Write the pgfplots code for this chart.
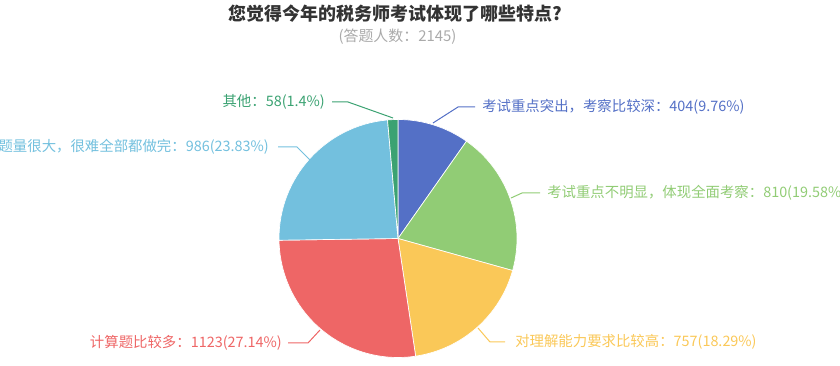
\documentclass[border=0pt]{standalone}
\usepackage{fontspec}
\usepackage{pgfplots}
\usepackage{pgfplotstable}
\pgfplotsset{compat=1.18}
\newfontfamily\cjk{Noto Sans CJK SC}
\definecolor{cA}{HTML}{5470C6}
\definecolor{cB}{HTML}{91CC75}
\definecolor{cC}{HTML}{FAC858}
\definecolor{cD}{HTML}{EE6666}
\definecolor{cE}{HTML}{73C0DE}
\definecolor{cF}{HTML}{3BA272}
\definecolor{titlec}{HTML}{333333}
\definecolor{subc}{HTML}{AAAAAA}

% values of the six answers (clockwise from 12 o'clock)
\pgfplotstableread{
idx value
0 404
1 810
2 757
3 1123
4 986
5 58
}\piedata

% total
\def\tot{0}
\pgfplotsforeachungrouped \i in {0,...,5}{%
  \pgfplotstablegetelem{\i}{value}\of\piedata
  \pgfmathsetmacro\tot{\tot+\pgfplotsretval}%
}
% start/end angles of each slice
\def\cum{0}
\pgfplotsforeachungrouped \i in {0,...,5}{%
  \pgfplotstablegetelem{\i}{value}\of\piedata
  \pgfmathsetmacro\s{90-360*(\cum/\tot)}%
  \pgfmathsetmacro\cum{\cum+\pgfplotsretval}%
  \pgfmathsetmacro\e{90-360*(\cum/\tot)}%
  \expandafter\xdef\csname sa\i\endcsname{\s}%
  \expandafter\xdef\csname ea\i\endcsname{\e}%
}
\newcommand\slice[2]{%
  \fill[#2, draw=white, line width=0.5pt] (axis cs:398,238.5) -- ++(\csname sa#1\endcsname:89.25pt)
    arc[start angle=\csname sa#1\endcsname, end angle=\csname ea#1\endcsname, radius=89.25pt] -- cycle;}

\begin{document}
\begin{tikzpicture}
\useasboundingbox (0,0) rectangle (630pt,274.5pt);
\clip (0,0) rectangle (630pt,274.5pt);
\begin{axis}[at={(0,0)}, anchor=south west, width=630pt, height=274.5pt,
  scale only axis, xmin=0, xmax=840, ymin=0, ymax=366, y dir=reverse,
  hide axis, clip=false]
\slice{0}{cA}
\slice{1}{cB}
\slice{2}{cC}
\slice{3}{cD}
\slice{4}{cE}
\slice{5}{cF}
% leader lines
\addplot[cA, line width=0.75pt, no marks] coordinates {(433,123) (458,107) (475,107)};
\addplot[cB, line width=0.75pt, no marks] coordinates {(511,198) (522,193) (540,193)};
\addplot[cC, line width=0.75pt, no marks] coordinates {(478,328) (490,342) (505,342)};
\addplot[cD, line width=0.75pt, no marks] coordinates {(320,330) (308,343) (288,343)};
\addplot[cE, line width=0.75pt, no marks] coordinates {(310,160) (297,147) (278,147)};
\addplot[cF, line width=0.75pt, no marks] coordinates {(393,118) (348,102) (332,102)};
% labels
\tikzset{lab/.style={inner sep=0pt, font=\cjk\fontsize{10.8}{12}\selectfont}}
\node[lab, anchor=west, text=cA] at (axis cs:482,107) {考试重点突出，考察比较深：404(9.76\%)};
\node[lab, anchor=west, text=cB] at (axis cs:547,193) {考试重点不明显，体现全面考察：810(19.58\%)};
\node[lab, anchor=west, text=cC] at (axis cs:515,342) {对理解能力要求比较高：757(18.29\%)};
\node[lab, anchor=east, text=cD] at (axis cs:282,343) {计算题比较多：1123(27.14\%)};
\node[lab, anchor=east, text=cE] at (axis cs:269,147) {题量很大，很难全部都做完：986(23.83\%)};
\node[lab, anchor=east, text=cF] at (axis cs:325,102) {其他：58(1.4\%)};
% title
\node[inner sep=0pt, text=titlec, font=\cjk\bfseries\fontsize{13.5}{16}\selectfont] at (axis cs:395,13.5) {您觉得今年的税务师考试体现了哪些特点?};
\node[inner sep=0pt, text=subc, font=\cjk\fontsize{11.2}{13}\selectfont] at (axis cs:397.5,37) {(答题人数：2145)};
\end{axis}
\end{tikzpicture}
\end{document}
